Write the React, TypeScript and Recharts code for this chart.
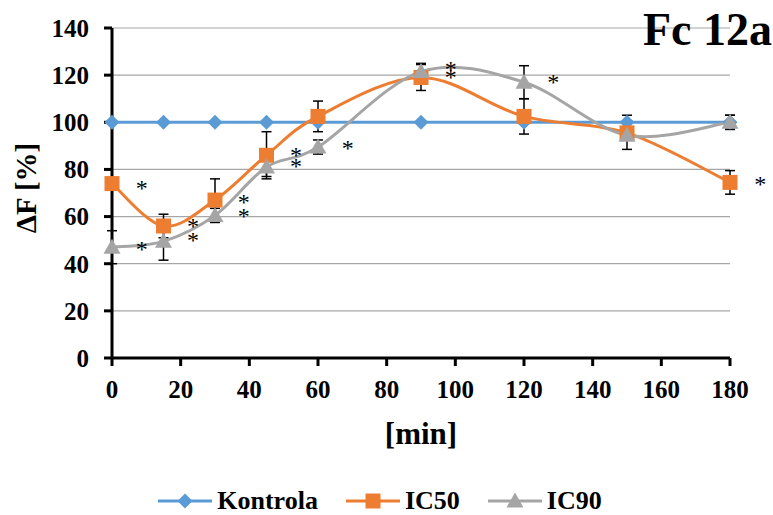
import { LineChart, Line, XAxis, YAxis, CartesianGrid, Legend, ErrorBar, ReferenceDot } from 'recharts';

const minutes = [0, 15, 30, 45, 60, 90, 120, 150, 180];
const kontrola = [100, 100, 100, 100, 100, 100, 100, 100, 100];
const kontrolaErr = [0, 0, 0, 0, 0, 0, 0, 3, 3];
const ic50 = [74, 56, 67, 86, 102.5, 119, 102.5, 95.5, 74.5];
const ic50Err = [0, 5, 9, 10, 6.5, 5.5, 7.5, 0, 5];
const ic90 = [47, 49.5, 60.5, 81, 89.5, 121.5, 117, 94.5, 100];
const ic90Err = [7, 8, 3, 4, 3, 3.5, 7, 6, 3];
const xTicks = [0, 20, 40, 60, 80, 100, 120, 140, 160, 180];
const yTicks = [0, 20, 40, 60, 80, 100, 120, 140];

// significance marks: [minute, value]
const stars: [number, number][] = [
  [8.7, 74], [8.7, 48],
  [23.6, 57.6], [23.6, 51.6],
  [38.4, 68], [38.4, 62],
  [53.6, 88], [53.6, 83],
  [68.7, 91],
  [98.7, 124.5], [98.7, 121],
  [128.5, 119],
  [188.8, 75.5],
];

const BLUE = '#5B9BD5';
const ORANGE = '#ED7D31';
const GREY = '#A5A5A5';
const FONT = '"Liberation Serif", "Times New Roman", serif';

const data = minutes.map((m, i) => ({
  min: m,
  kontrola: kontrola[i],
  kontrolaErr: kontrolaErr[i],
  ic50: ic50[i],
  ic50Err: ic50Err[i],
  ic90: ic90[i],
  ic90Err: ic90Err[i],
}));

// excel-like smoothing (catmull-rom)
function smooth(context: any) {
  let pts: number[][] = [];
  return {
    areaStart() {},
    areaEnd() {},
    lineStart() { pts = []; },
    point(x: number, y: number) { pts.push([+x, +y]); },
    lineEnd() {
      if (!pts.length) return;
      context.moveTo(pts[0][0], pts[0][1]);
      const k = 1 / 6;
      for (let i = 0; i < pts.length - 1; i++) {
        const p0 = pts[i - 1] || pts[i];
        const p1 = pts[i];
        const p2 = pts[i + 1];
        const p3 = pts[i + 2] || p2;
        context.bezierCurveTo(
          p1[0] + (p2[0] - p0[0]) * k, p1[1] + (p2[1] - p0[1]) * k,
          p2[0] - (p3[0] - p1[0]) * k, p2[1] - (p3[1] - p1[1]) * k,
          p2[0], p2[1]
        );
      }
    },
  };
}

const Diamond = ({ cx, cy }: any) =>
  cx == null ? null : <path d={`M${cx},${cy - 7.5}L${cx + 7.5},${cy}L${cx},${cy + 7.5}L${cx - 7.5},${cy}Z`} fill={BLUE} />;
const Square = ({ cx, cy }: any) =>
  cx == null ? null : <rect x={cx - 7.5} y={cy - 7.5} width={15} height={15} fill={ORANGE} />;
const Triangle = ({ cx, cy }: any) =>
  cx == null ? null : <path d={`M${cx},${cy - 8.5}L${cx + 8.5},${cy + 6.5}L${cx - 8.5},${cy + 6.5}Z`} fill={GREY} />;

const legendItems = [
  { name: 'Kontrola', color: BLUE, Icon: Diamond },
  { name: 'IC50', color: ORANGE, Icon: Square },
  { name: 'IC90', color: GREY, Icon: Triangle },
];

function LegendContent() {
  return (
    <div style={{ display: 'flex', justifyContent: 'center', gap: 28, height: 28, alignItems: 'center', paddingLeft: 30 }}>
      {legendItems.map(({ name, color, Icon }) => (
        <div key={name} style={{ display: 'flex', alignItems: 'center' }}>
          <svg width={54} height={18}>
            <line x1={0} y1={9} x2={54} y2={9} stroke={color} strokeWidth={3} />
            <Icon cx={27} cy={9} />
          </svg>
          <span style={{ marginLeft: 5, fontFamily: FONT, fontWeight: 'bold', fontSize: 26, lineHeight: '28px', color: '#000' }}>{name}</span>
        </div>
      ))}
    </div>
  );
}

const Star = ({ cx, cy }: any) => (
  <text x={cx} y={cy + 12} textAnchor="middle" fontFamily={FONT} fontSize={24} style={{ fill: '#000', stroke: 'none' }}>*</text>
);

export default function App() {
  const tickStyle = { fontFamily: FONT, fontWeight: 'bold', fontSize: 25, fill: '#000' };
  return (
    <div style={{ position: 'relative', width: 773, height: 515, background: '#fff' }}>
      <style>{`body{margin:0}`}</style>
      <LineChart width={773} height={515} data={data} margin={{ top: 28, right: 43, left: 0, bottom: 0 }}>
        <CartesianGrid vertical={false} stroke="#a6a6a6" strokeWidth={1.2} />
        <XAxis
          dataKey="min"
          type="number"
          domain={[0, 180]}
          ticks={xTicks}
          height={129}
          stroke="#000"
          strokeWidth={3}
          tickSize={8}
          tickMargin={14}
          tick={tickStyle}
          label={{ value: '[min]', position: 'center', dy: 10, style: { fontFamily: FONT, fontWeight: 'bold', fontSize: 31, fill: '#000' } }}
        />
        <YAxis
          domain={[0, 140]}
          ticks={yTicks}
          width={112}
          stroke="#000"
          strokeWidth={3}
          tickSize={8}
          tickMargin={15}
          tick={tickStyle}
          label={{ value: 'ΔF [%]', angle: -90, position: 'center', dx: -30, dy: -5, style: { fontFamily: FONT, fontWeight: 'bold', fontSize: 29, fill: '#000' } }}
        />
        <Legend verticalAlign="bottom" content={<LegendContent />} />
        <Line dataKey="kontrola" name="Kontrola" type="linear" stroke={BLUE} strokeWidth={3} dot={<Diamond />} activeDot={false} isAnimationActive={false}>
          <ErrorBar dataKey="kontrolaErr" stroke="#000" strokeWidth={1.5} width={5} direction="y" />
        </Line>
        <Line dataKey="ic50" name="IC50" type={smooth as any} stroke={ORANGE} strokeWidth={3} dot={<Square />} activeDot={false} isAnimationActive={false}>
          <ErrorBar dataKey="ic50Err" stroke="#000" strokeWidth={1.5} width={5} direction="y" />
        </Line>
        <Line dataKey="ic90" name="IC90" type={smooth as any} stroke={GREY} strokeWidth={3} dot={<Triangle />} activeDot={false} isAnimationActive={false}>
          <ErrorBar dataKey="ic90Err" stroke="#000" strokeWidth={1.5} width={5} direction="y" />
        </Line>
        {stars.map(([x, y], i) => (
          <ReferenceDot key={i} x={x} y={y} ifOverflow="visible" shape={<Star />} />
        ))}
      </LineChart>
      <div style={{ position: 'absolute', right: 1, top: 7, fontFamily: FONT, fontWeight: 'bold', fontSize: 46, lineHeight: '46px', color: '#000' }}>
        Fc 12a
      </div>
    </div>
  );
}
